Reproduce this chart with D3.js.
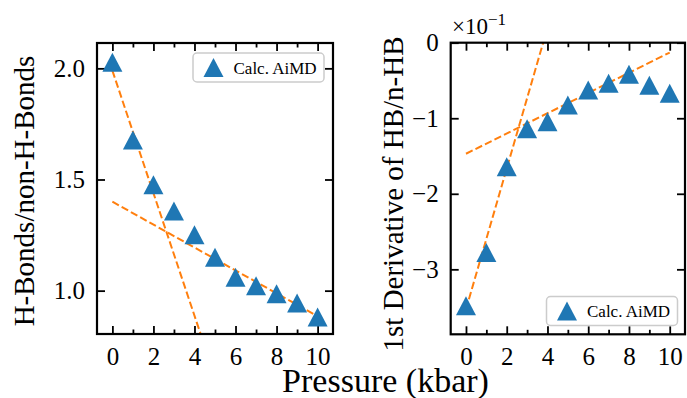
<!DOCTYPE html>
<html>
<head>
<meta charset="utf-8">
<script src="https://cdn.jsdelivr.net/npm/d3@7"></script>
<style>
  body { margin: 0; background: #fff; }
  svg { display: block; font-family: "Liberation Serif", "DejaVu Serif", serif; }
  .tick line { stroke: #000; stroke-width: 1.8; }
</style>
</head>
<body>
<div id="chart"></div>
<script>
// pressure steps (kbar)
var pressure_kbar = [0, 1, 2, 3, 4, 5, 6, 7, 8, 9, 10];
// left panel: H-bonds / non-H-bonds
var hb_ratio = [2.027, 1.678, 1.476, 1.358, 1.251, 1.150, 1.060, 1.022, 0.986, 0.945, 0.882];
// right panel: 1st derivative, in units of 1e-1
var hb_deriv = [-3.483, -2.778, -1.641, -1.139, -1.047, -0.824, -0.625, -0.536, -0.416, -0.562, -0.669];
// dashed linear fits, two end points each
var ratio_fit_low_x  = [0, 5];
var ratio_fit_low_y  = [1.99, 0.612];
var ratio_fit_high_x = [0, 10];
var ratio_fit_high_y = [1.40, 0.885];
var deriv_fit_low_x  = [0, 4.5];
var deriv_fit_low_y  = [-3.53, 0.664];
var deriv_fit_high_x = [0, 10];
var deriv_fit_high_y = [-1.47, -0.13];
// ticks
var x_major_ticks = [0, 2, 4, 6, 8, 10];
var x_minor_ticks = [1, 3, 5, 7, 9];
var ratio_ticks   = [1.0, 1.5, 2.0];
var deriv_ticks   = [-3, -2, -1, 0];
var legend_label  = "Calc. AiMD";

var blue   = "#1f77b4";
var orange = "#ff7f0e";
var serif  = "'Liberation Serif', 'DejaVu Serif', serif";

var svg = d3.select("#chart").append("svg")
  .attr("width", 687)
  .attr("height", 398);

function triangle_path (w, h) {
  return "M0," + (-h / 2) + "L" + (w / 2) + "," + (h / 2) + "L" + (-w / 2) + "," + (h / 2) + "Z";
}

function draw_panel (opt) {
  var g = svg.append("g");
  var x = d3.scaleLinear().domain([-0.75, 10.75]).range([opt.left, opt.right]);
  var y = d3.scaleLinear().domain(opt.ydomain).range([opt.bottom, opt.top]);

  g.append("clipPath").attr("id", opt.id + "_clip")
    .append("rect")
    .attr("x", opt.left).attr("y", opt.top)
    .attr("width", opt.right - opt.left).attr("height", opt.bottom - opt.top);

  // axes, ticks pointing inward
  g.append("g").attr("transform", "translate(0," + opt.bottom + ")")
    .call(d3.axisBottom(x).tickValues(x_major_ticks).tickSize(-8).tickPadding(13).tickFormat(d3.format("d")));
  g.append("g").attr("transform", "translate(0," + opt.bottom + ")")
    .call(d3.axisBottom(x).tickValues(x_minor_ticks).tickSize(-4.5).tickFormat(""));
  g.append("g").attr("transform", "translate(0," + opt.top + ")")
    .call(d3.axisTop(x).tickValues(x_major_ticks).tickSize(-8).tickFormat(""));
  g.append("g").attr("transform", "translate(0," + opt.top + ")")
    .call(d3.axisTop(x).tickValues(x_minor_ticks).tickSize(-4.5).tickFormat(""));
  g.append("g").attr("transform", "translate(" + opt.left + ",0)")
    .call(d3.axisLeft(y).tickValues(opt.yticks).tickSize(-8).tickPadding(12).tickFormat(opt.yformat));
  g.append("g").attr("transform", "translate(" + opt.right + ",0)")
    .call(d3.axisRight(y).tickValues(opt.yticks).tickSize(-8).tickFormat(""));
  g.selectAll(".domain").remove();
  g.selectAll(".tick text")
    .attr("font-family", serif)
    .attr("font-size", 25)
    .attr("fill", "#000");

  var plot = g.append("g").attr("clip-path", "url(#" + opt.id + "_clip)");

  var line = d3.line().x(function (d) { return x(d[0]); }).y(function (d) { return y(d[1]); });
  opt.fits.forEach(function (f) {
    plot.append("path")
      .datum(d3.zip(f[0], f[1]))
      .attr("d", line)
      .attr("fill", "none")
      .attr("stroke", orange)
      .attr("stroke-width", 2)
      .attr("stroke-dasharray", "7.4,3.2");
  });

  plot.selectAll("path.pt")
    .data(d3.zip(pressure_kbar, opt.values))
    .enter().append("path")
    .attr("class", "pt")
    .attr("d", triangle_path(20, 19))
    .attr("transform", function (d) { return "translate(" + x(d[0]) + "," + y(d[1]) + ")"; })
    .attr("fill", blue);

  // frame
  g.append("rect")
    .attr("x", opt.left).attr("y", opt.top)
    .attr("width", opt.right - opt.left).attr("height", opt.bottom - opt.top)
    .attr("fill", "none").attr("stroke", "#000").attr("stroke-width", 2.2);

  // legend
  var lg = g.append("g").attr("transform", "translate(" + opt.legend[0] + "," + opt.legend[1] + ")");
  lg.append("rect")
    .attr("width", 131).attr("height", 29).attr("rx", 4)
    .attr("fill", "#fff").attr("fill-opacity", 0.8)
    .attr("stroke", "#cccccc").attr("stroke-width", 1.5);
  lg.append("path").attr("d", triangle_path(20, 19))
    .attr("transform", "translate(20.5,14.5)").attr("fill", blue);
  lg.append("text").attr("x", 40.5).attr("y", 20.5)
    .style("font-size", "17px").text(legend_label);
}

draw_panel({
  id: "ratio", left: 97, right: 333, top: 43, bottom: 334,
  ydomain: [0.805, 2.114], yticks: ratio_ticks, yformat: d3.format(".1f"),
  values: hb_ratio,
  fits: [[ratio_fit_low_x, ratio_fit_low_y], [ratio_fit_high_x, ratio_fit_high_y]],
  legend: [193, 53]
});

draw_panel({
  id: "deriv", left: 450.7, right: 685, top: 42.7, bottom: 334.3,
  ydomain: [-3.86, 0], yticks: deriv_ticks, yformat: d3.format("d"),
  values: hb_deriv,
  fits: [[deriv_fit_low_x, deriv_fit_low_y], [deriv_fit_high_x, deriv_fit_high_y]],
  legend: [546.5, 296.5]
});

// axis titles
svg.append("text")
  .attr("transform", "translate(34,191) rotate(-90)")
  .attr("text-anchor", "middle")
  .style("font-size", "29px")
  .text("H-Bonds/non-H-Bonds");
svg.append("text")
  .attr("transform", "translate(403,194) rotate(-90)")
  .attr("text-anchor", "middle")
  .style("font-size", "29px")
  .text("1st Derivative of HB/n-HB");
svg.append("text")
  .attr("x", 385.5).attr("y", 392)
  .attr("text-anchor", "middle")
  .style("font-size", "34px")
  .text("Pressure (kbar)");

// offset text of the right panel
var offset = svg.append("text").attr("x", 452).attr("y", 33.5).style("font-size", "23px");
offset.append("tspan").text("×10");
offset.append("tspan").attr("dy", -9).style("font-size", "17px").text("−1");
</script>
</body>
</html>
